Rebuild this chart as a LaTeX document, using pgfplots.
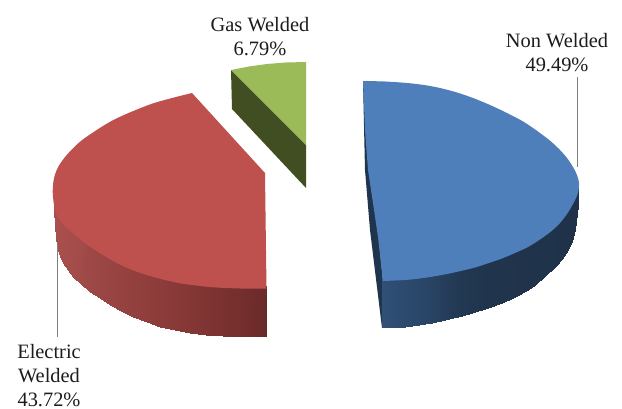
\documentclass[border=0pt]{standalone}
\usepackage{fontspec}
\setmainfont{Liberation Serif}
\usepackage{pgfplots}
\pgfplotsset{compat=1.18}
\definecolor{blueTop}{HTML}{4F7FBB}
\definecolor{blueEdge}{HTML}{1F344D}
\definecolor{redTop}{HTML}{BE504D}
\definecolor{greenTop}{HTML}{9BBB59}
\definecolor{greenSide}{HTML}{404E22}
\definecolor{leader}{HTML}{808080}
\definecolor{labelText}{HTML}{1C1C1C}
\tikzset{lbl/.style={font=\fontsize{20.4}{20.4}\selectfont, text=labelText, anchor=base, inner sep=0pt}}
\begin{document}
\begin{tikzpicture}
\useasboundingbox (0,0) rectangle (622pt,409pt);
\begin{axis}[
  at={(0,0)}, anchor=south west,
  scale only axis, width=622pt, height=409pt,
  xmin=0, xmax=622, ymin=0, ymax=409, y dir=reverse,
  hide axis, clip=false,
  point meta min=0, point meta max=1,
  every axis plot post/.append style={forget plot},
]
% Non Welded: cut face, rim, top
\addplot[fill=blueEdge, draw=none] coordinates {(363,81) (365,170) (370,230) (382,328) (383,281)};
\addplot[patch, patch type=rectangle, shader=interp, point meta=explicit,
  colormap={blueRim}{rgb255(0)=(48,80,118) rgb255(0.2)=(42,70,104) rgb255(0.4)=(34,56,82) rgb255(0.55)=(32,52,76) rgb255(1)=(31,50,73)}]
  table[meta=c, row sep=\\] {
x y c\\
382 278 0\\ 405 277 0.12\\ 405 326.7 0.12\\ 382 327.7 0\\
405 277 0.12\\ 432 274 0.25\\ 432 322.7 0.25\\ 405 326.7 0.12\\
432 274 0.25\\ 462 268 0.41\\ 462 316 0.41\\ 432 322.7 0.25\\
462 268 0.41\\ 488 261 0.54\\ 488 308.3 0.54\\ 462 316 0.41\\
488 261 0.54\\ 502 255 0.61\\ 502 303 0.61\\ 488 308.3 0.54\\
502 255 0.61\\ 515 249 0.67\\ 515 296.7 0.67\\ 502 303 0.61\\
515 249 0.67\\ 526 243 0.73\\ 526 291 0.73\\ 515 296.7 0.67\\
526 243 0.73\\ 535 238 0.78\\ 535 285 0.78\\ 526 291 0.73\\
535 238 0.78\\ 546 230 0.83\\ 546 275 0.83\\ 535 285 0.78\\
546 230 0.83\\ 555 225 0.88\\ 555 266.7 0.88\\ 546 275 0.83\\
555 225 0.88\\ 562 217 0.91\\ 562 258.5 0.91\\ 555 266.7 0.88\\
562 217 0.91\\ 568 209 0.94\\ 568.3 250 0.94\\ 562 258.5 0.91\\
568 209 0.94\\ 572 201 0.97\\ 572 241 0.97\\ 568.3 250 0.94\\
572 201 0.97\\ 575 193 0.98\\ 575 229 0.98\\ 572 241 0.97\\
575 193 0.98\\ 576 189 0.99\\ 576.5 213 0.99\\ 575 229 0.98\\
576 189 0.99\\ 577 185 1\\ 578.5 197 1\\ 576.5 213 0.99\\
};
\addplot[fill=blueTop, draw=none] coordinates {(363,81) (365,130) (368,170) (373,203) (378,237) (383,281) (450,200)};
\addplot[fill=blueTop, draw=none, smooth] coordinates {
  (363,81) (385,81.5) (407,83) (424,85) (440,88) (457,92.5) (473,98) (490,105)
  (507,113) (524,122) (540,133) (551,141.5) (560,150) (567,158) (573,167) (577,175)
  (579,183) (578,193) (573,204) (567,214) (560,223) (551,231.5) (540,239.5) (528,247) (515,253)
  (502,258.5) (488,263.3) (475,267.5) (462,270.7) (447,274) (432,276.7) (418,278.7) (405,280) (383,281)};
% Electric Welded: rim, top
\addplot[patch, patch type=rectangle, shader=interp, point meta=explicit,
  colormap={redRim}{rgb255(0)=(170,80,78) rgb255(0.2)=(155,71,69) rgb255(0.55)=(138,58,56) rgb255(0.85)=(118,47,46) rgb255(1)=(105,42,41)}]
  table[meta=c, row sep=\\] {
x y c\\
55 200 0\\ 57 208 0.01\\ 55 227 0.01\\ 54 208 0\\
57 208 0.01\\ 61 217 0.02\\ 57.3 247 0.02\\ 55 227 0.01\\
61 217 0.02\\ 66 223 0.03\\ 60 256 0.03\\ 57.3 247 0.02\\
66 223 0.03\\ 70 227 0.05\\ 63 263 0.05\\ 60 256 0.03\\
70 227 0.05\\ 75 232 0.07\\ 68 270 0.07\\ 63 263 0.05\\
75 232 0.07\\ 80 236 0.09\\ 73 276.7 0.09\\ 68 270 0.07\\
80 236 0.09\\ 85 240 0.12\\ 81 284 0.12\\ 73 276.7 0.09\\
85 240 0.12\\ 90 244 0.17\\ 90 291.7 0.17\\ 81 284 0.12\\
90 244 0.17\\ 100 250 0.22\\ 100 298.5 0.22\\ 90 291.7 0.17\\
100 250 0.22\\ 110 256 0.27\\ 110 305 0.27\\ 100 298.5 0.22\\
110 256 0.27\\ 121 262 0.32\\ 121 311 0.32\\ 110 305 0.27\\
121 262 0.32\\ 133 267 0.37\\ 133 316.7 0.37\\ 121 311 0.32\\
133 267 0.37\\ 147 272 0.44\\ 147 322 0.44\\ 133 316.7 0.37\\
147 272 0.44\\ 160 275 0.5\\ 160 326.7 0.5\\ 147 322 0.44\\
160 275 0.5\\ 175 279 0.57\\ 175 330 0.57\\ 160 326.7 0.5\\
175 279 0.57\\ 190 282 0.64\\ 190 332.7 0.64\\ 175 330 0.57\\
190 282 0.64\\ 206 284 0.71\\ 206 334.5 0.71\\ 190 332.7 0.64\\
206 284 0.71\\ 223 285 0.79\\ 223 335.7 0.79\\ 206 334.5 0.71\\
223 285 0.79\\ 245 286 0.89\\ 245 336 0.89\\ 223 335.7 0.79\\
245 286 0.89\\ 266.7 286 1\\ 266.7 336 1\\ 245 336 0.89\\
};
\addplot[fill=redTop, draw=none] coordinates {(192,93) (265,173) (266.5,288.5) (190,240)};
\addplot[fill=redTop, draw=none, smooth] coordinates {
  (192,93) (173.3,97.7) (153.3,103.3) (133.3,111) (113.3,120) (96.7,130) (80,141.7) (66.7,155) (58.3,166.7)
  (54,178.3) (52.7,191.7) (54,205) (56,213) (61,221.5) (66,227) (70,230.5) (80,239) (90,246.7) (103,255) (116.7,263) (131,269.5)
  (146.7,275) (163,279.5) (180,283.3) (196,285.5) (213,287.3) (240,288.5) (266.5,288.5)};
% Gas Welded: cut face, top
\addplot[fill=greenSide, draw=none] coordinates {(231,70) (306,145) (306,188) (232,109)};
\addplot[fill=greenTop, draw=none] coordinates {(231,70) (249,66.5) (267,64) (286,62.5) (306,62) (306,145)};
% Leader lines
\addplot[leader, line width=0.8pt] coordinates {(577,77) (577,167)};
\addplot[leader, line width=0.8pt] coordinates {(57.3,243) (57.3,337)};
% Labels
\node[lbl] at (axis cs:260,32) {Gas Welded};
\node[lbl] at (axis cs:260,55.5) {6.79\%};
\node[lbl] at (axis cs:557,48) {Non Welded};
\node[lbl] at (axis cs:557,72) {49.49\%};
\node[lbl] at (axis cs:49,358) {Electric};
\node[lbl] at (axis cs:49,382) {Welded};
\node[lbl] at (axis cs:49,406) {43.72\%};
\end{axis}
\end{tikzpicture}
\end{document}
